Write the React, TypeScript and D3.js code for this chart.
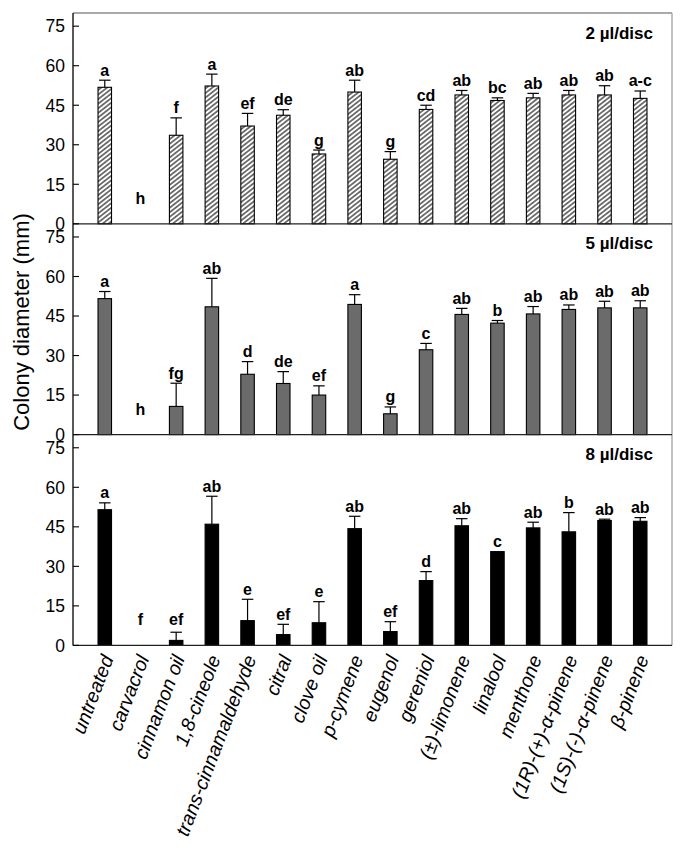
import React from "react";
import * as d3 from "d3";

const categories = [
  "untreated", "carvacrol", "cinnamon oil", "1,8-cineole", "trans-cinnamaldehyde",
  "citral", "clove oil", "p-cymene", "eugenol", "gereniol", "(±)-limonene",
  "linalool", "menthone", "(1R)-(+)-α-pinene", "(1S)-(-)-α-pinene", "β-pinene",
];

const mean2 = [51.8, 0, 33.6, 52.3, 37.1, 41.2, 26.5, 50.0, 24.5, 43.4, 48.9, 46.8, 47.8, 48.9, 48.9, 47.6];
const err2 = [2.7, 0, 6.6, 4.5, 4.8, 2.1, 1.5, 4.5, 2.9, 1.6, 1.7, 1.0, 1.7, 1.7, 3.5, 2.8];
const letters2 = ["a", "h", "f", "a", "ef", "de", "g", "ab", "g", "cd", "ab", "bc", "ab", "ab", "ab", "a-c"];

const mean5 = [51.6, 0, 10.7, 48.5, 22.9, 19.4, 15.0, 49.4, 7.9, 32.2, 45.6, 42.3, 45.8, 47.5, 48.1, 48.1];
const err5 = [2.7, 0, 8.8, 10.8, 4.8, 4.5, 3.5, 3.7, 2.6, 2.4, 2.3, 1.0, 2.8, 1.7, 2.5, 2.7];
const letters5 = ["a", "h", "fg", "ab", "d", "de", "ef", "a", "g", "c", "ab", "b", "ab", "ab", "ab", "ab"];

const mean8 = [51.5, 0, 1.9, 46.0, 9.4, 4.1, 8.6, 44.3, 5.25, 24.6, 45.4, 35.6, 44.6, 43.1, 47.4, 47.1];
const err8 = [2.6, 0, 3.1, 10.6, 8.1, 3.9, 8.0, 4.7, 3.75, 3.4, 2.7, 0, 2.15, 7.3, 0.5, 1.4];
const letters8 = ["a", "f", "ef", "ab", "e", "ef", "e", "ab", "ef", "d", "ab", "c", "ab", "b", "ab", "ab"];

const panelTitles = ["2 µl/disc", "5 µl/disc", "8 µl/disc"];
const yTicks = [0, 15, 30, 45, 60, 75];
const yAxisTitle = "Colony diameter (mm)";

const W = 685;
const H = 850;
const left = 73;
const right = 672;
const top = 13;
const panelH = 210.8;
const FONT = "'Liberation Sans', Arial, Helvetica, sans-serif";

const panels = [
  { mean: mean2, err: err2, letters: letters2, title: panelTitles[0], fill: "url(#hatch)" },
  { mean: mean5, err: err5, letters: letters5, title: panelTitles[1], fill: "#6b6b6b" },
  { mean: mean8, err: err8, letters: letters8, title: panelTitles[2], fill: "#000000" },
];

export default function App() {
  const x = d3.scalePoint<string>().domain(categories).range([left, right]).padding(0.89);
  const barW = 13.5;
  const capW = 11.5;
  const bottom = top + 3 * panelH;

  return (
    <div style={{ position: "absolute", left: 0, top: 0 }}>
      <svg width={W} height={H} style={{ display: "block", background: "#fff" }} fontFamily={FONT}>
        <defs>
          <pattern id="hatch" patternUnits="userSpaceOnUse" width={4} height={3.6} patternTransform="rotate(-38)">
            <rect x={0} y={0} width={4} height={3.6} fill="#fff" />
            <line x1={-1} y1={1.8} x2={5} y2={1.8} stroke="#000" strokeWidth={1.05} />
          </pattern>
        </defs>

        {/* frame: top and right */}
        <line x1={left} y1={top} x2={right} y2={top} stroke="#555" strokeWidth={1.2} />
        <line x1={right} y1={top} x2={right} y2={bottom} stroke="#9a9a9a" strokeWidth={1.2} />

        {panels.map((p, pi) => {
          const pTop = top + pi * panelH;
          const y = d3.scaleLinear().domain([0, 80]).range([pTop + panelH, pTop]);
          return (
            <g key={pi}>
              {p.mean.map((m, i) => {
                const cx = x(categories[i]) as number;
                const e = p.err[i];
                const yTop = y(m + e);
                const lblY = Math.min(yTop - 4.5, y(0) - 20);
                return (
                  <g key={i}>
                    {m > 0 && (
                      <rect x={cx - barW / 2} y={y(m)} width={barW} height={y(0) - y(m)}
                        fill={p.fill} stroke="#000" strokeWidth={1.1} />
                    )}
                    {e > 0 && (
                      <g stroke="#000" strokeWidth={1.2}>
                        <line x1={cx} x2={cx} y1={y(m)} y2={yTop} />
                        <line x1={cx - capW / 2} x2={cx + capW / 2} y1={yTop} y2={yTop} />
                      </g>
                    )}
                    <text x={cx} y={lblY} textAnchor="middle" fontSize={16} fontWeight="bold" fill="#000">
                      {p.letters[i]}
                    </text>
                  </g>
                );
              })}
              {/* zero line */}
              <line x1={left} x2={right} y1={y(0)} y2={y(0)} stroke="#222" strokeWidth={1.3} />
              {/* ticks */}
              {yTicks.map((t) => (
                <g key={t}>
                  <line x1={left} x2={left + 6} y1={y(t)} y2={y(t)} stroke="#000" strokeWidth={1.1} />
                  <text x={left - 8} y={y(t)} dy="0.36em" textAnchor="end" fontSize={17.5} fill="#000">
                    {t}
                  </text>
                </g>
              ))}
              <text x={653} y={pTop + 25.5} textAnchor="end" fontSize={17} fontWeight="bold" fill="#000">
                {p.title}
              </text>
            </g>
          );
        })}

        {/* left axis */}
        <line x1={left} x2={left} y1={top} y2={bottom} stroke="#000" strokeWidth={1.3} />

        {/* y axis title */}
        <text transform={`translate(29,322) rotate(-90)`} textAnchor="middle" fontSize={22} fill="#000">
          {yAxisTitle}
        </text>

        {/* category labels */}
        {categories.map((c) => {
          const cx = x(c) as number;
          return (
            <text key={c} transform={`translate(${cx + 9},${bottom + 13}) rotate(-69)`} textAnchor="end"
              fontSize={19.5} fontStyle="italic" fill="#000">
              {c}
            </text>
          );
        })}
      </svg>
    </div>
  );
}
